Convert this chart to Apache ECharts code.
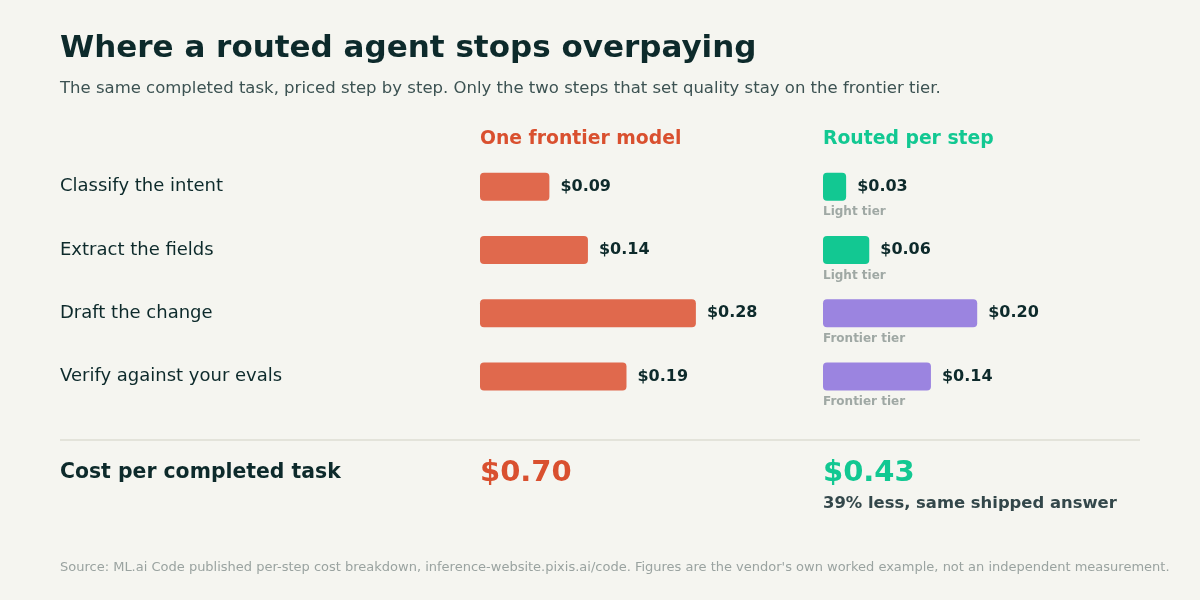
<!DOCTYPE html>
<html>
<head>
<meta charset="utf-8">
<script src="https://cdn.jsdelivr.net/npm/echarts@6/dist/echarts.min.js"></script>
<style>
  html, body { margin: 0; padding: 0; background: #f5f5f0; }
  #main { width: 1200px; height: 600px; }
</style>
</head>
<body>
<div id="main"></div>
<script>
// 数据
const steps = ['Classify the intent', 'Extract the fields', 'Draft the change', 'Verify against your evals'];
const frontierCost = [0.09, 0.14, 0.28, 0.19];
const routedCost = [0.03, 0.06, 0.20, 0.14];
const routedTier = ['Light tier', 'Light tier', 'Frontier tier', 'Frontier tier'];
const totals = ['$0.70', '$0.43'];

const FONT = 'DejaVu Sans';
const RED = '#e0694d';
const RED_TEXT = '#d9502f';
const GREEN = '#12c892';
const PURPLE = '#9b84e0';
const INK = '#0d2a2b';

const money = v => '$' + v.toFixed(2);

// 面板公共设置
const gridTop = 155;
const gridHeight = 253;
const pxPerDollar = 771;
const xMax = 0.4;

function panelAxis(idx) {
    return {
        type: 'value', gridIndex: idx, min: 0, max: xMax,
        show: false, splitLine: { show: false }
    };
}

const tierColor = i => routedTier[i] === 'Light tier' ? GREEN : PURPLE;

const option = {
    backgroundColor: '#f5f5f0',
    animation: false,
    textStyle: { fontFamily: FONT },
    grid: [
        { left: 480, top: gridTop, width: pxPerDollar * xMax, height: gridHeight },
        { left: 823, top: gridTop, width: pxPerDollar * xMax, height: gridHeight }
    ],
    xAxis: [panelAxis(0), panelAxis(1)],
    yAxis: [
        {
            type: 'category', gridIndex: 0, data: steps, inverse: true,
            axisLine: { show: false }, axisTick: { show: false },
            axisLabel: {
                align: 'left', margin: 420, color: INK,
                fontSize: 18, fontFamily: FONT
            }
        },
        {
            type: 'category', gridIndex: 1, data: steps, inverse: true,
            axisLine: { show: false }, axisTick: { show: false },
            axisLabel: { show: false }
        }
    ],
    series: [
        {
            type: 'bar', xAxisIndex: 0, yAxisIndex: 0,
            data: frontierCost, barWidth: 28,
            itemStyle: { color: RED, borderRadius: 4 },
            label: {
                show: true, position: 'right', distance: 11,
                formatter: p => money(p.value),
                color: INK, fontWeight: 'bold', fontSize: 16, fontFamily: FONT
            }
        },
        {
            type: 'bar', xAxisIndex: 1, yAxisIndex: 1,
            data: routedCost.map((v, i) => ({ value: v, itemStyle: { color: tierColor(i) } })),
            barWidth: 28,
            itemStyle: { borderRadius: 4 },
            label: {
                show: true, position: 'right', distance: 11,
                formatter: p => money(p.value),
                color: INK, fontWeight: 'bold', fontSize: 16, fontFamily: FONT
            }
        },
        {
            // 档位说明文字
            type: 'scatter', xAxisIndex: 1, yAxisIndex: 1,
            symbolSize: 0, silent: true,
            data: routedTier.map((t, i) => [0, i]),
            label: {
                show: true, position: 'right', distance: 0, offset: [0, 25.5],
                formatter: p => routedTier[p.dataIndex],
                color: '#8a9591', fontWeight: 'bold', fontSize: 12, fontFamily: FONT
            }
        }
    ],
    graphic: [
        {
            type: 'text', left: 60, top: 33,
            style: { text: 'Where a routed agent stops overpaying', fill: INK, font: 'bold 31px "DejaVu Sans"' }
        },
        {
            type: 'text', left: 60, top: 80,
            style: {
                text: 'The same completed task, priced step by step. Only the two steps that set quality stay on the frontier tier.',
                fill: '#3c5252', font: '16.5px "DejaVu Sans"'
            }
        },
        {
            type: 'text', left: 480, top: 130,
            style: { text: 'One frontier model', fill: RED_TEXT, font: 'bold 18.8px "DejaVu Sans"' }
        },
        {
            type: 'text', left: 823, top: 130,
            style: { text: 'Routed per step', fill: GREEN, font: 'bold 18.8px "DejaVu Sans"' }
        },
        {
            type: 'line', silent: true,
            shape: { x1: 60, y1: 440, x2: 1140, y2: 440 },
            style: { stroke: '#dcdcd3', lineWidth: 1.5 }
        },
        {
            type: 'text', left: 60, top: 463,
            style: { text: 'Cost per completed task', fill: INK, font: 'bold 20.4px "DejaVu Sans"' }
        },
        {
            type: 'text', left: 480, top: 459,
            style: { text: totals[0], fill: RED_TEXT, font: 'bold 29px "DejaVu Sans"' }
        },
        {
            type: 'text', left: 823, top: 459,
            style: { text: totals[1], fill: GREEN, font: 'bold 29px "DejaVu Sans"' }
        },
        {
            type: 'text', left: 823, top: 496,
            style: { text: '39% less, same shipped answer', fill: '#33474a', font: 'bold 16.4px "DejaVu Sans"' }
        },
        {
            type: 'text', left: 60, top: 561,
            style: {
                text: "Source: ML.ai Code published per-step cost breakdown, inference-website.pixis.ai/code. Figures are the vendor's own worked example, not an independent measurement.",
                fill: '#9aa3a0', font: '13px "DejaVu Sans"'
            }
        }
    ]
};

const myChart = echarts.init(document.getElementById('main'));
myChart.setOption(option);
</script>
</body>
</html>
